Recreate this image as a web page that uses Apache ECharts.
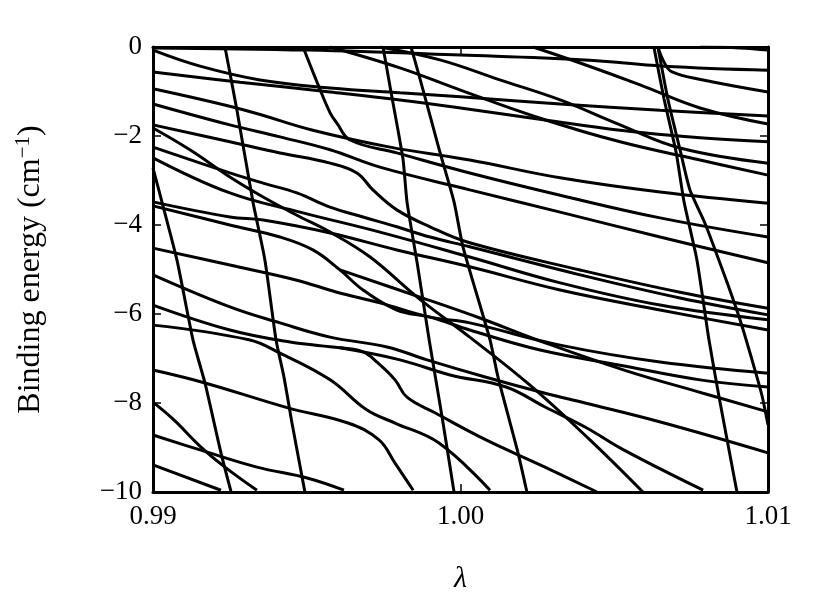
<!DOCTYPE html>
<html>
<head>
<meta charset="utf-8">
<script src="https://cdn.jsdelivr.net/npm/echarts@6/dist/echarts.min.js"></script>
<style>
  html, body { margin: 0; padding: 0; background: #fff; }
  #chart { width: 830px; height: 610px; }
</style>
</head>
<body>
<div id="chart"></div>
<script>
// axis ticks
const xTicks = [0.99, 1.00, 1.01];
const yTicks = [0, -2, -4, -6, -8, -10];

// steep levels, [lambda, energy]
const steep1 = [[0.99,-2.72],[0.99029,-3.48],[0.99078,-4.79],[0.9913,-6.58],[0.99169,-7.55],[0.99221,-9.12],[0.99254,-10]];
const steep2 = [[0.99234,0],[0.99273,-1.42],[0.99325,-3.48],[0.99364,-4.79],[0.994,-6.58],[0.99426,-7.42],[0.99452,-8.45],[0.99494,-10]];
const steep4 = [[0.99748,0],[0.99774,-1.01],[0.99813,-2.52],[0.99826,-3.48],[0.99859,-4.85],[0.99898,-6.58],[0.9994,-8.31],[0.99979,-10]];
const steep5 = [[0.99839,0],[0.99865,-0.63],[0.99904,-1.62],[0.99933,-2.36],[0.99979,-3.48],[1.00008,-4.49],[1.00096,-6.58],[1.00122,-7.42],[1.00187,-9.12],[1.00216,-10]];
const steep6 = [[1.00629,0],[1.00662,-1.17],[1.00701,-2.36],[1.00727,-3.48],[1.00769,-4.79],[1.00808,-6.58],[1.00841,-7.87],[1.00899,-10]];
const steep7 = [[1.00642,0],[1.00675,-1.19],[1.00714,-2.31],[1.00746,-3.21],[1.00795,-3.96],[1.00828,-4.56],[1.0087,-5.35],[1.00909,-6.13],[1.00948,-7.03],[1.0098,-7.82],[1.01,-8.49]];

// levels entering from the left edge
const lev1 = [[0.99,-0.02],[0.99504,-0.07],[1.0,-0.18],[1.00405,-0.29],[1.00662,-0.43],[1.01,-0.52]];
const lev2 = [[0.99,-0.07],[0.99153,-0.43],[0.99348,-0.74],[0.99576,-0.92],[0.99803,-1.03],[1.0,-1.12],[1.00324,-1.28],[1.00649,-1.42],[1.01,-1.55]];
const lev3 = [[0.99,-0.56],[0.99283,-0.79],[0.99576,-1.01],[0.99803,-1.19],[1.0,-1.37],[1.00275,-1.64],[1.00519,-1.87],[1.00779,-2.04],[1.01,-2.13]];
const lev4 = [[0.99,-0.94],[0.99299,-1.42],[0.9952,-1.87],[0.99771,-2.25],[1.0003,-2.54],[1.00324,-2.94],[1.00649,-3.26],[1.01,-3.51]];
const lev5 = [[0.99,-1.28],[0.9925,-1.75],[0.99413,-2.02],[0.99576,-2.31],[0.99738,-2.7],[1.0003,-3.21],[1.00324,-3.71],[1.00649,-4.27],[1.01,-4.85]];
const lev6 = [[0.99,-1.75],[0.9925,-2.13],[0.99413,-2.38],[0.99576,-2.61],[0.99663,-2.83],[0.99715,-3.21],[0.99793,-3.66],[0.99901,-4.04],[1.0003,-4.4],[1.00389,-5.01],[1.00714,-5.51],[1.01,-5.87]];
const levM = [[0.99,-1.82],[0.9912,-2.31],[0.9925,-2.92],[0.99358,-3.37],[0.99468,-3.78],[0.99576,-4.16],[0.99706,-4.72],[0.99859,-5.62],[1.0003,-6.52],[1.00226,-7.6],[1.00421,-8.83],[1.00593,-10]];
const lev8 = [[0.99,-2.25],[0.9925,-2.83],[0.99358,-3.06],[0.99468,-3.28],[0.99576,-3.6],[0.99683,-3.82],[0.99793,-4.04],[0.99901,-4.27],[1.0003,-4.49],[1.00389,-5.12],[1.00714,-5.64],[1.01,-6.02]];
const lev9 = [[0.99,-2.49],[0.9925,-3.28],[0.99478,-3.71],[0.99738,-4.16],[1.0003,-4.72],[1.00324,-5.3],[1.00649,-5.8],[1.01,-6.13]];
const lev10 = [[0.99,-3.48],[0.9925,-3.82],[0.99358,-3.89],[0.99576,-4.18],[0.99793,-4.56],[1.0003,-4.94],[1.00324,-5.46],[1.00649,-5.91],[1.01,-6.36]];
const lev11 = [[0.99,-3.57],[0.9925,-4.0],[0.99413,-4.27],[0.9952,-4.56],[0.99608,-5.01],[0.99683,-5.46],[0.99793,-5.91],[0.99901,-6.07],[1.0003,-6.36],[1.00259,-6.81],[1.00519,-7.15],[1.00779,-7.48],[1.01,-7.64]];
const levD = [[0.99608,-5.01],[0.99868,-5.62],[1.00063,-6.09],[1.00249,-6.58],[1.00532,-7.26],[1.00789,-7.78],[1.01,-8.2]];
const lev12 = [[0.99,-4.52],[0.9925,-4.9],[0.99468,-5.24],[0.99598,-5.51],[0.99738,-5.75],[0.99901,-6.07],[1.0003,-6.2],[1.00324,-6.7],[1.00649,-7.08],[1.01,-7.33]];
const lev13 = [[0.99,-5.12],[0.9925,-5.84],[0.99413,-6.2],[0.99576,-6.52],[0.99761,-6.74],[0.99891,-7.03],[1.00083,-7.42],[1.00275,-7.78],[1.00405,-8.0],[1.00662,-8.45],[1.01,-9.12]];
const levS = [[0.99,-5.8],[0.9925,-6.36],[0.99446,-6.63],[0.99608,-6.76],[0.99683,-6.85],[0.99728,-7.08],[0.99787,-7.48],[0.99826,-7.87],[0.99917,-8.22],[1.00083,-8.83],[1.00259,-9.39],[1.00444,-10]];
const levB = [[0.99608,-6.76],[0.99803,-7.03],[0.99966,-7.37],[1.00148,-7.64],[1.00275,-8.09],[1.00405,-8.54],[1.00532,-9.06],[1.00789,-9.96]];
const lev14 = [[0.99,-6.25],[0.99312,-6.58],[0.99413,-6.88],[0.99576,-7.48],[0.99696,-8.16],[0.99787,-8.45],[0.9993,-8.9],[1.00096,-9.96]];
const lev16 = [[0.99,-7.26],[0.99169,-7.55],[0.99439,-8.11],[0.99634,-8.45],[0.99735,-8.83],[0.99787,-9.35],[0.99846,-9.96]];
const lev17 = [[0.99,-7.98],[0.99068,-8.38],[0.99156,-8.99],[0.99234,-9.44],[0.99338,-9.96]];
const lev18 = [[0.99,-8.72],[0.99156,-9.06],[0.99338,-9.44],[0.99504,-9.69],[0.99621,-9.96]];
const lev19 = [[0.99,-9.39],[0.99221,-9.96]];

// levels coming down from threshold
const top1 = [[1.00779,0],[1.00909,-0.02],[1.01,-0.07]];
const top2 = [[1.00642,0],[1.00662,-0.34],[1.00688,-0.56],[1.00789,-0.74],[1.01,-1.01]];
const top3 = [[1.00236,0],[1.00389,-0.36],[1.00584,-0.85],[1.00779,-1.37],[1.01,-1.73]];
const top4 = [[0.99738,0],[0.99933,-0.29],[1.00128,-0.74],[1.00324,-1.19],[1.00519,-1.75],[1.00714,-2.27],[1.01,-2.61]];
const top5 = [[0.99576,0],[0.99803,-0.47],[1.0,-0.97],[1.00259,-1.6],[1.00519,-2.13],[1.00779,-2.54],[1.01,-2.88]];
const top6 = [[0.99488,0],[0.99537,-0.85],[0.99576,-1.48],[0.99598,-1.71],[0.99641,-2.09],[0.99793,-2.38],[1.0003,-2.83],[1.00324,-3.33],[1.00649,-3.84],[1.01,-4.27]];

const steepLevels = [steep1, steep2, steep4, steep5, steep6, steep7];
const curvedLevels = [lev1, lev2, lev3, lev4, lev5, lev6, levM, lev8, lev9, lev10,
  lev11, levD, lev12, lev13, levS, levB, lev14, lev16, lev17, lev18, lev19,
  top1, top2, top3, top4, top5, top6];

const chart = echarts.init(document.getElementById('chart'));
const font = 'Liberation Serif';

const series = [];
steepLevels.forEach(d => series.push({
  type: 'line', data: d, showSymbol: false, smooth: 0.2, clip: true,
  lineStyle: { color: '#000', width: 3 }, silent: true
}));
curvedLevels.forEach(d => series.push({
  type: 'line', data: d, showSymbol: false, smooth: 0.4, clip: true,
  lineStyle: { color: '#000', width: 3 }, silent: true
}));

const tickStyle = { inside: true, length: 8, lineStyle: { color: '#000', width: 1.5 } };
const axisLine = { show: true, onZero: false, lineStyle: { color: '#000', width: 3 } };

chart.setOption({
  animation: false,
  grid: { left: 153, right: 62, top: 47, bottom: 118 },
  xAxis: [
    {
      type: 'value', min: 0.99, max: 1.01, interval: 0.01,
      axisLine, axisTick: tickStyle, splitLine: { show: false },
      axisLabel: { formatter: v => v.toFixed(2), color: '#000', fontFamily: font, fontSize: 27, margin: 11 },
      name: 'λ', nameLocation: 'middle', nameGap: 72,
      nameTextStyle: { color: '#000', fontFamily: font, fontSize: 30, fontStyle: 'italic' }
    },
    {
      type: 'value', position: 'top', min: 0.99, max: 1.01, interval: 0.01,
      axisLine, axisTick: tickStyle, axisLabel: { show: false }, splitLine: { show: false }
    }
  ],
  yAxis: [
    {
      type: 'value', min: -10, max: 0, interval: 2,
      axisLine, axisTick: tickStyle, splitLine: { show: false },
      axisLabel: {
        formatter: v => (v < 0 ? '\u2212' + Math.abs(v) : String(v)),
        color: '#000', fontFamily: font, fontSize: 27, margin: 11
      },
      name: '{t|Binding energy (cm}{s|\u22121}{t|)}', nameLocation: 'middle', nameGap: 104,
      nameTextStyle: {
        rich: {
          t: { color: '#000', fontFamily: font, fontSize: 32 },
          s: { color: '#000', fontFamily: font, fontSize: 21, verticalAlign: 'top', padding: [0, 0, 15, 0] }
        }
      }
    },
    {
      type: 'value', position: 'right', min: -10, max: 0, interval: 2,
      axisLine, axisTick: tickStyle, axisLabel: { show: false }, splitLine: { show: false }
    }
  ],
  series
});
</script>
</body>
</html>
